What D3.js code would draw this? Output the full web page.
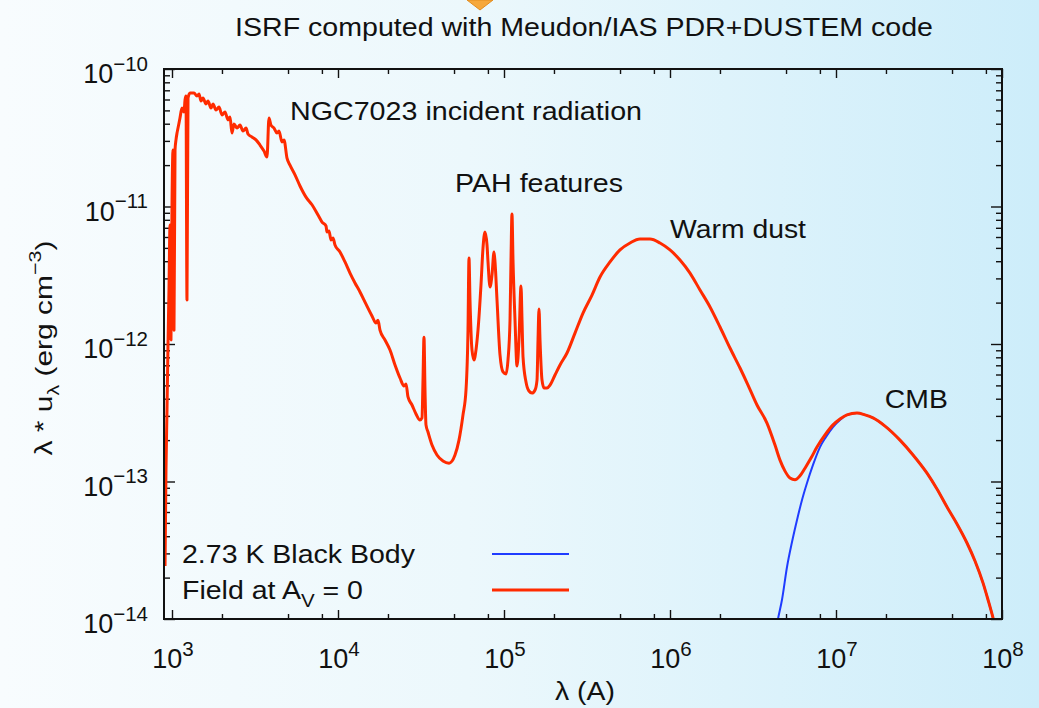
<!DOCTYPE html>
<html>
<head>
<meta charset="utf-8">
<script src="https://cdn.jsdelivr.net/npm/d3@7"></script>
<style>
  html, body { margin: 0; padding: 0; }
  body { width: 1039px; height: 708px; overflow: hidden; font-family: "Liberation Sans", Arial, sans-serif; }
</style>
</head>
<body>
<div id="chart"></div>
<script>
// Field at Av = 0 (NGC7023 incident radiation + PAH + dust + CMB), lambda in Angstrom
var lambdaField = [
  908, 920, 933, 946, 959, 973, 986, 1000, 1014, 1028, 1043, 1057, 1072, 1087, 1117, 1149, 1181, 1198, 1214, 1231,
  1249, 1284, 1357, 1414, 1455, 1495, 1537, 1603, 1648, 1718, 1766, 1841, 1919, 2001, 2086, 2175, 2236, 2298, 2363, 2464,
  2568, 2677, 2792, 2870, 3033, 3206, 3389, 3583, 3735, 3839, 3947, 4117, 4291, 4412, 4599, 4728, 4930, 5138, 5508, 5904,
  6418, 6973, 7580, 8011, 8469, 8587, 8829, 9076, 9330, 9592, 10281, 11021, 11812, 12660, 13569, 14750, 16028, 16941, 17418, 17906,
  19192, 20575, 22052, 23635, 24984, 25685, 26408, 27914, 29510, 31191, 32063, 32511, 32967, 33428, 33890, 34843, 36836, 39475, 42907, 46640,
  50676, 53566, 56624, 59036, 60688, 61536, 62396, 64143, 65953, 67810, 69726, 72680, 74734, 76834, 79006, 80107, 82369, 84676, 87068, 88279,
  90760, 94607, 98628, 102800, 105700, 108700, 110200, 111700, 113300, 116500, 119800, 123100, 126600, 128400, 130200, 135700, 141400, 147500, 153800, 158100,
  160300, 162500, 164800, 169400, 174200, 181600, 189300, 202900, 217500, 239600, 267700, 299200, 338900, 378700, 435100, 499700, 574100, 659700, 757700, 870800,
  1.0e6, 1.149e6, 1.32e6, 1.516e6, 1.742e6, 2.001e6, 2.298e6, 2.641e6, 2.951e6, 3.343e6, 3.839e6, 4.291e6, 4.599e6, 4.93e6, 5.283e6, 5.662e6, 6.069e6, 6.505e6, 7.069e6, 7.683e6,
  8.586e6, 9.592e6, 1.057e7, 1.165e7, 1.338e7, 1.495e7, 1.671e7, 1.973e7, 2.43e7, 2.911e7, 3.534e7, 4.059e7, 4.665e7, 5.357e7, 6.154e7, 6.877e7, 7.683e7, 8.237e7, 8.829e7, 9.2e7
];
var uField = [
  2.43e-14, 1.21e-13, 3.31e-13, 9.83e-13, 2.47e-12, 7.34e-12, 1.07e-12, 1.03e-11, 2.58e-11, 1.26e-12, 2.58e-11, 3.05e-11, 3.42e-11, 3.72e-11, 4.40e-11, 5.20e-11, 4.87e-11, 5.95e-11, 6.36e-11, 2.09e-12,
  6.15e-11, 6.69e-11, 6.69e-11, 6.36e-11, 6.58e-11, 5.85e-11, 6.15e-11, 5.57e-11, 5.85e-11, 5.20e-11, 5.57e-11, 5.03e-11, 5.29e-11, 4.63e-11, 4.87e-11, 4.26e-11, 4.48e-11, 3.42e-11, 3.98e-11, 3.72e-11,
  3.91e-11, 3.54e-11, 3.72e-11, 3.37e-11, 3.20e-11, 3.05e-11, 2.80e-11, 2.53e-11, 2.29e-11, 4.40e-11, 3.91e-11, 3.72e-11, 3.42e-11, 3.54e-11, 2.95e-11, 3.05e-11, 2.25e-11, 2.00e-11, 1.70e-11, 1.41e-11,
  1.17e-11, 1.03e-11, 8.67e-12, 7.71e-12, 7.21e-12, 6.52e-12, 6.63e-12, 5.71e-12, 5.90e-12, 5.25e-12, 4.67e-12, 3.95e-12, 3.28e-12, 2.78e-12, 2.39e-12, 1.95e-12, 1.60e-12, 1.42e-12, 1.49e-12, 1.26e-12,
  1.07e-12, 9.05e-13, 7.04e-13, 5.66e-13, 4.95e-13, 5.12e-13, 4.12e-13, 3.60e-13, 3.10e-13, 2.80e-13, 2.90e-13, 5.47e-13, 1.12e-12, 4.63e-13, 2.58e-13, 2.29e-13, 1.84e-13, 1.56e-13, 1.41e-13, 1.36e-13,
  1.56e-13, 2.00e-13, 3.05e-13, 4.63e-13, 1.26e-12, 4.22e-12, 2.09e-12, 9.05e-13, 7.65e-13, 9.05e-13, 1.26e-12, 2.69e-12, 4.99e-12, 6.52e-12, 5.25e-12, 3.95e-12, 2.60e-12, 3.18e-12, 4.67e-12, 3.95e-12,
  2.09e-12, 8.32e-13, 6.26e-13, 6.05e-13, 7.65e-13, 1.49e-12, 4.08e-12, 8.82e-12, 4.08e-12, 1.49e-12, 6.92e-13, 1.07e-12, 2.64e-12, 1.49e-12, 8.05e-13, 5.29e-13, 4.55e-13, 4.40e-13, 4.63e-13, 5.47e-13,
  1.07e-12, 1.80e-12, 1.07e-12, 5.47e-13, 4.79e-13, 4.79e-13, 5.03e-13, 5.95e-13, 7.04e-13, 8.60e-13, 1.20e-12, 1.68e-12, 2.27e-12, 3.07e-12, 3.95e-12, 4.83e-12, 5.43e-12, 5.80e-12, 5.80e-12, 5.43e-12,
  4.83e-12, 4.08e-12, 3.28e-12, 2.47e-12, 1.86e-12, 1.33e-12, 9.35e-13, 6.69e-13, 5.03e-13, 3.60e-13, 2.66e-13, 1.84e-13, 1.43e-13, 1.19e-13, 1.06e-13, 1.03e-13, 1.10e-13, 1.25e-13, 1.48e-13, 1.78e-13,
  2.18e-13, 2.58e-13, 2.85e-13, 3.05e-13, 3.15e-13, 3.05e-13, 2.90e-13, 2.53e-13, 2.00e-13, 1.56e-13, 1.15e-13, 8.82e-14, 6.52e-14, 4.91e-14, 3.57e-14, 2.64e-14, 1.83e-14, 1.38e-14, 1.02e-14, 8.3e-15
];

// 2.73 K black body
var lambdaBB = [
  4.352e6, 4.473e6, 4.728e6, 5.068e6, 5.432e6, 5.823e6, 6.24e6, 6.688e6, 7.268e6, 8.011e6, 8.707e6, 9.592e6, 1.057e7, 1.165e7,
  1.338e7, 1.495e7, 1.671e7, 1.973e7, 2.43e7, 2.911e7, 3.534e7, 4.059e7, 4.665e7, 5.357e7, 6.154e7, 6.877e7, 7.683e7, 8.237e7, 8.829e7, 9.2e7
];
var uBB = [
  8.3e-15, 1.0e-14, 1.38e-14, 2.39e-14, 3.63e-14, 5.25e-14, 7.34e-14, 9.75e-14, 1.32e-13, 1.78e-13, 2.11e-13, 2.49e-13, 2.80e-13, 3.05e-13,
  3.15e-13, 3.05e-13, 2.90e-13, 2.53e-13, 2.00e-13, 1.56e-13, 1.15e-13, 8.82e-14, 6.52e-14, 4.91e-14, 3.57e-14, 2.64e-14, 1.83e-14, 1.38e-14, 1.02e-14, 8.3e-15
];

var xDecades = [3, 4, 5, 6, 7, 8];
var yDecades = [-14, -13, -12, -11, -10];
var xMinor   = [2, 5, 8];
var yMinor   = [2, 3, 4, 5, 6, 7, 8, 9];

var titleText = "ISRF computed with Meudon/IAS PDR+DUSTEM code";
var notes = [
  { text: "NGC7023 incident radiation", lambda: 5.14e3, u: 4.26e-11, w: 352 },
  { text: "PAH features",               lambda: 5.07e4, u: 1.27e-11, w: 168 },
  { text: "Warm dust",                  lambda: 1.0e6,  u: 5.9e-12,  w: 136 },
  { text: "CMB",                        lambda: 1.97e7, u: 3.43e-13, w: 63 }
];

(function() {
  var W = 1039, H = 708;
  var margin = { top: 69, right: 37, bottom: 89, left: 164 };
  var width  = W - margin.left - margin.right,
      height = H - margin.top - margin.bottom;

  var red  = "#ff2b00",
      blue = "#1f3cff",
      font = "'Liberation Sans', Arial, sans-serif";

  var svg = d3.select("#chart").append("svg")
      .attr("width", W)
      .attr("height", H)
      .style("font-family", font);

  // Background gradient
  var defs = svg.append("defs");
  var grad = defs.append("linearGradient").attr("id", "bg")
      .attr("x1", "0").attr("x2", "1").attr("y1", "0").attr("y2", "0");
  grad.append("stop").attr("offset", "0%").attr("stop-color", "#f8fcfe");
  grad.append("stop").attr("offset", "45%").attr("stop-color", "#ecf8fc");
  grad.append("stop").attr("offset", "100%").attr("stop-color", "#cdedfa");
  svg.append("rect").attr("width", W).attr("height", H).attr("fill", "url(#bg)");

  // little orange marker cut at top edge
  svg.append("path")
    .attr("d", "M467,0 L493,0 L480,10 Z")
    .attr("fill", "#f6a83c").attr("stroke", "#e28b1e").attr("stroke-width", 1);

  defs.append("clipPath").attr("id", "plot")
    .append("rect").attr("width", width).attr("height", height);

  var x = d3.scaleLog().domain([895, 1e8]).range([0, width]);
  var y = d3.scaleLog().domain([1e-14, 1e-10]).range([height, 0]);

  var g = svg.append("g")
      .attr("transform", "translate(" + margin.left + "," + margin.top + ")");

  // Tick values
  var xMajor = xDecades.map(function(k) { return Math.pow(10, k); });
  var xMin = [];
  xDecades.forEach(function(k) {
    xMinor.forEach(function(m) {
      var v = m * Math.pow(10, k - 1);
      if (v > 895 && v < 1e8) xMin.push(v);
    });
  });
  var yMajor = yDecades.map(function(k) { return Math.pow(10, k); });
  var yMin = [];
  yDecades.forEach(function(k) {
    if (k === -14) return;
    yMinor.forEach(function(m) { yMin.push(m * Math.pow(10, k - 1)); });
  });

  function tickAxis(axis, vals, size, transform) {
    var a = g.append("g")
      .attr("transform", transform || null)
      .call(axis.tickValues(vals).tickSize(size).tickSizeOuter(0).tickFormat(""));
    a.select(".domain").remove();
    a.selectAll("line").attr("stroke", "#111").attr("stroke-width", 1.4);
  }

  // inward ticks on four sides
  tickAxis(d3.axisBottom(x), xMajor, -9, "translate(0," + height + ")");
  tickAxis(d3.axisBottom(x), xMin, -5, "translate(0," + height + ")");
  tickAxis(d3.axisTop(x), xMajor, -9);
  tickAxis(d3.axisTop(x), xMin, -5);
  tickAxis(d3.axisLeft(y), yMajor, -11);
  tickAxis(d3.axisLeft(y), yMin, -6);
  tickAxis(d3.axisRight(y), yMajor, -11, "translate(" + width + ",0)");
  tickAxis(d3.axisRight(y), yMin, -6, "translate(" + width + ",0)");

  // Curves
  var line = d3.line()
    .x(function(d) { return x(d[0]); })
    .y(function(d) { return y(d[1]); })
    .curve(d3.curveMonotoneX);

  var curves = g.append("g").attr("clip-path", "url(#plot)");

  curves.append("path")
    .datum(d3.zip(lambdaBB, uBB))
    .attr("d", line)
    .attr("fill", "none")
    .attr("stroke", blue)
    .attr("stroke-width", 2);

  curves.append("path")
    .datum(d3.zip(lambdaField, uField))
    .attr("d", line)
    .attr("fill", "none")
    .attr("stroke", red)
    .attr("stroke-width", 3)
    .attr("stroke-linejoin", "round");

  // Frame
  g.append("rect")
    .attr("width", width).attr("height", height)
    .attr("fill", "none").attr("stroke", "#111").attr("stroke-width", 2);

  // Text helper: parts = [[text, "sup"|"sub"|null], ...]
  function label(parent, px, py, parts, size, anchor, target, small) {
    var t = parent.append("text")
      .attr("x", px).attr("y", py)
      .attr("font-size", size)
      .attr("fill", "#111")
      .attr("text-anchor", anchor || "start");
    var shift = 0;
    parts.forEach(function(p) {
      var s = t.append("tspan").text(p[0]);
      var want = p[1] === "sup" ? -0.45 * size : p[1] === "sub" ? 0.3 * size : 0;
      s.attr("dy", want - shift);
      if (p[1]) s.attr("font-size", size * (small || 0.72));
      shift = want;
    });
    if (target) t.attr("textLength", target).attr("lengthAdjust", "spacingAndGlyphs");
    return t;
  }

  // Tick labels
  xDecades.forEach(function(k) {
    label(g, x(Math.pow(10, k)) + 1, height + 49, [["10"], [String(k), "sup"]], 27, "middle", null, 0.76);
  });
  yDecades.forEach(function(k) {
    label(g, -16, y(Math.pow(10, k)) + 14, [["10"], ["\u2212" + Math.abs(k), "sup"]], 27, "end", null, 0.76);
  });

  // Axis titles
  label(g, width / 2 + 2, height + 81, [["\u03bb (A)"]], 25, "middle", 60);
  var yl = g.append("g").attr("transform", "translate(-112," + (height / 2 + 4) + ") rotate(-90)");
  label(yl, 0, 0, [["\u03bb * u"], ["\u03bb", "sub"], [" (erg cm"], ["\u22123", "sup"], [")"]], 24, "middle", 215);

  // Title
  label(svg, 584, 36, [[titleText]], 25, "middle", 698);

  // Annotations
  notes.forEach(function(n) {
    label(g, x(n.lambda), y(n.u), [[n.text]], 25, "start", n.w);
  });

  // Legend
  var legend = [
    { parts: [["2.73 K Black Body"]], color: blue, sw: 2, w: 233 },
    { parts: [["Field at A"], ["V", "sub"], [" = 0"]], color: red, sw: 3, w: 181 }
  ];
  var legY = [494, 530];
  legend.forEach(function(d, i) {
    label(g, 18, legY[i], d.parts, 25, "start", d.w);
    g.append("line")
      .attr("x1", 328).attr("x2", 405)
      .attr("y1", legY[i] - 9).attr("y2", legY[i] - 9)
      .attr("stroke", d.color).attr("stroke-width", d.sw);
  });
})();
</script>
</body>
</html>
